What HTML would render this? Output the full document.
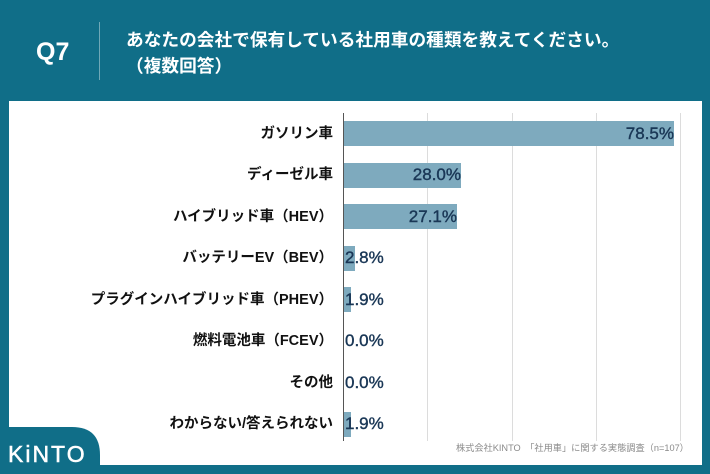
<!DOCTYPE html>
<html><head><meta charset="utf-8">
<style>
*{margin:0;padding:0;box-sizing:border-box}
html,body{width:710px;height:474px;overflow:hidden;background:#106e88}
body{position:relative;font-family:"Liberation Sans","Noto Sans CJK JP",sans-serif}
.abs{position:absolute}
.panel{left:9px;top:101px;width:693px;height:364px;background:#fff}
.q{left:36px;top:35px;font-size:25px;font-weight:700;color:#fff;line-height:34px}
.div{left:99px;top:22px;width:1px;height:58px;background:rgba(255,255,255,0.4)}
.t{left:126px;font-size:17.7px;font-weight:700;color:#fff;line-height:24px;white-space:nowrap;font-family:"Liberation Sans","Noto Sans CJK JP",sans-serif}
.g{width:1px;top:113px;height:328px;background:#dcdcdc}
.axis{left:343px;top:113px;width:1px;height:328px;background:#555}
.bar{left:343px;height:25px;background:#7eaabe}
.lab{right:377px;font-size:14.5px;font-weight:700;color:#111;line-height:20px;white-space:nowrap;text-align:right}
.val{font-size:17px;color:#1a3756;line-height:20px;white-space:nowrap;-webkit-text-stroke:0.4px #1a3756}
.foot{left:456px;top:441px;font-size:9.2px;color:#8a8a8a;white-space:nowrap;line-height:14px}
.logo{left:8px;top:440px;font-size:23px;color:#fff;letter-spacing:2px;line-height:28px;font-family:"Liberation Sans",sans-serif;-webkit-text-stroke:0.5px #fff}
</style></head><body>
<div class="abs panel"></div>
<div class="abs q">Q7</div>
<div class="abs div"></div>
<div class="abs t" style="top:28px">あなたの会社で保有している社用車の種類を教えてください。</div>
<div class="abs t" style="top:54px">（複数回答）</div>

<div class="abs g" style="left:427px"></div>
<div class="abs g" style="left:512px"></div>
<div class="abs g" style="left:596px"></div>
<div class="abs g" style="left:680px"></div>

<div class="abs bar" style="top:121px;width:331px"></div>
<div class="abs bar" style="top:162.5px;width:118px"></div>
<div class="abs bar" style="top:204px;width:114px"></div>
<div class="abs bar" style="top:245.5px;width:12px"></div>
<div class="abs bar" style="top:287px;width:8px"></div>
<div class="abs bar" style="top:411.5px;width:8px"></div>

<div class="abs axis"></div>

<div class="abs lab" style="top:123.5px">ガソリン車</div>
<div class="abs lab" style="top:165px">ディーゼル車</div>
<div class="abs lab" style="top:206.5px">ハイブリッド車（HEV）</div>
<div class="abs lab" style="top:248px">バッテリーEV（BEV）</div>
<div class="abs lab" style="top:289.5px">プラグインハイブリッド車（PHEV）</div>
<div class="abs lab" style="top:331px">燃料電池車（FCEV）</div>
<div class="abs lab" style="top:372.5px">その他</div>
<div class="abs lab" style="top:414px">わからない/答えられない</div>

<div class="abs val" style="top:123.5px;right:36px">78.5%</div>
<div class="abs val" style="top:165px;right:249px">28.0%</div>
<div class="abs val" style="top:206.5px;right:253px">27.1%</div>
<div class="abs val" style="top:248px;left:345px">2.8%</div>
<div class="abs val" style="top:289.5px;left:345px">1.9%</div>
<div class="abs val" style="top:331px;left:345px">0.0%</div>
<div class="abs val" style="top:372.5px;left:345px">0.0%</div>
<div class="abs val" style="top:414px;left:345px">1.9%</div>

<div class="abs foot">株式会社KINTO　「社用車」に関する実態調査（n=107）</div>

<svg class="abs" style="left:0;top:420px" width="110" height="54" viewBox="0 0 110 54">
<path d="M0 7 H72 Q100 7 100 35 V54 H0 Z" fill="#106e88"/>
</svg>
<div class="abs logo">KiNTO</div>
</body></html>
